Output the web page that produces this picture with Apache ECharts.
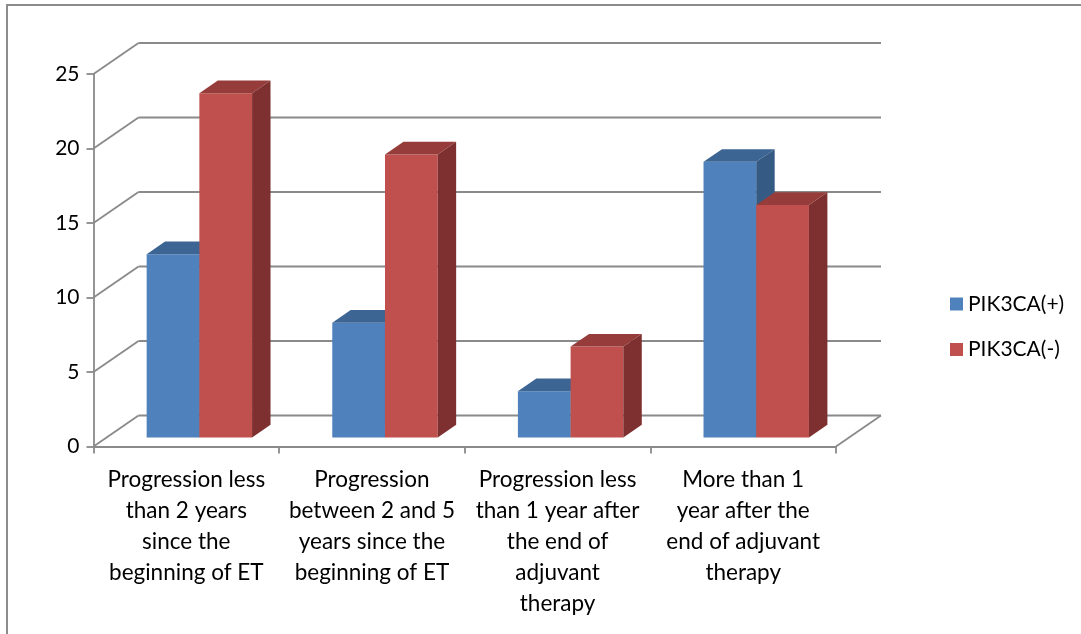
<!DOCTYPE html>
<html>
<head>
<meta charset="utf-8">
<script src="https://cdn.jsdelivr.net/npm/echarts@6/dist/echarts.min.js"></script>
<style>
  html, body { margin: 0; padding: 0; background: #ffffff; }
  #chart { width: 1081px; height: 634px; }
</style>
</head>
<body>
<div id="chart"></div>
<script>
// Progression categories (x axis)
const categories = [
  'Progression less\nthan 2 years\nsince the\nbeginning of ET',
  'Progression\nbetween 2 and 5\nyears since the\nbeginning of ET',
  'Progression less\nthan 1 year after\nthe end of\nadjuvant\ntherapy',
  'More than 1\nyear after the\nend of adjuvant\ntherapy'
];
const seriesNames = ['PIK3CA(+)', 'PIK3CA(-)'];
const pik3caPos = [12.3, 7.7, 3.1, 18.5];
const pik3caNeg = [23.1, 19.0, 6.1, 15.6];
// Value axis ticks (also used for the back-wall grid lines)
const yTicks = [0, 5, 10, 15, 20, 25];

// Oblique depth of the plot box, and where the columns sit inside it
const DEPTH_X = 45, DEPTH_Y = 31;
const BAR_FRONT = 0.29, BAR_DEPTH = 0.41, BAR_WIDTH = 0.284;
const GRID_COLOR = '#8a8a8a';
const FONT = 'Lato, "Open Sans", sans-serif';

const faces = [
  { front: '#4f81bd', top: '#3c6593', side: '#355a84' },
  { front: '#c0504d', top: '#963d3b', side: '#7d302f' }
];

function wallRenderer(params, api) {
  const cs = params.coordSys;
  const v = api.value(1);
  const y = api.coord([0, v])[1];
  const x0 = cs.x, x1 = cs.x + cs.width;
  const children = [
    { type: 'line', shape: { x1: x0, y1: y, x2: x0 + DEPTH_X, y2: y - DEPTH_Y },
      style: { stroke: GRID_COLOR, lineWidth: 1.8 } },
    { type: 'line', shape: { x1: x0 + DEPTH_X, y1: y - DEPTH_Y, x2: x1 + DEPTH_X, y2: y - DEPTH_Y },
      style: { stroke: GRID_COLOR, lineWidth: 1.8 } }
  ];
  if (v === 0) {
    children.push({ type: 'line', shape: { x1: x1, y1: y, x2: x1 + DEPTH_X, y2: y - DEPTH_Y },
      style: { stroke: GRID_COLOR, lineWidth: 1.8 } });
  }
  return { type: 'group', children };
}

function makeBarRenderer(seriesIdx) {
  return function (params, api) {
    const idx = api.value(0);
    const val = api.value(1);
    const band = api.size([1, 0])[0];
    const w = band * BAR_WIDTH;
    const cx = api.coord([idx, 0])[0] + BAR_FRONT * DEPTH_X;
    const yBase = api.coord([idx, 0])[1] - BAR_FRONT * DEPTH_Y;
    const yTop = api.coord([idx, val])[1] - BAR_FRONT * DEPTH_Y;
    const xL = seriesIdx === 0 ? cx - w : cx;
    const xR = xL + w;
    const dx = BAR_DEPTH * DEPTH_X, dy = BAR_DEPTH * DEPTH_Y;
    const f = faces[seriesIdx];
    return {
      type: 'group',
      children: [
        { type: 'rect', shape: { x: xL, y: yTop, width: w, height: yBase - yTop },
          style: { fill: f.front } },
        { type: 'polygon', shape: { points: [[xL, yTop], [xR, yTop], [xR + dx, yTop - dy], [xL + dx, yTop - dy]] },
          style: { fill: f.top } },
        { type: 'polygon', shape: { points: [[xR, yTop], [xR + dx, yTop - dy], [xR + dx, yBase - dy], [xR, yBase]] },
          style: { fill: f.side } }
      ]
    };
  };
}

const chart = echarts.init(document.getElementById('chart'), null, { renderer: 'canvas' });

chart.setOption({
  backgroundColor: '#ffffff',
  animation: false,
  graphic: [
    { type: 'polyline', z: 100,
      shape: { points: [[7, 634], [7, 5], [1081, 5]] },
      style: { stroke: '#8c8c8c', lineWidth: 2, fill: null } }
  ],
  grid: { left: 93.5, right: 245, top: 74, bottom: 187.5, containLabel: false },
  legend: {
    orient: 'vertical',
    left: 945, top: 288.5,
    icon: 'rect', itemWidth: 13, itemHeight: 13, itemGap: 24.5,
    data: seriesNames,
    textStyle: { fontFamily: FONT, fontSize: 21, color: '#000', lineHeight: 21 }
  },
  xAxis: {
    type: 'category',
    data: categories,
    boundaryGap: true,
    axisLine: { show: true, lineStyle: { color: GRID_COLOR, width: 1.8 } },
    axisTick: { show: true, length: 7, alignWithLabel: false, lineStyle: { color: GRID_COLOR, width: 1.8 } },
    axisLabel: { interval: 0, margin: 18, fontFamily: FONT, fontSize: 22.5, color: '#000', lineHeight: 31 },
    splitLine: { show: false }
  },
  yAxis: {
    type: 'value',
    min: 0, max: 25, interval: 5,
    axisLine: { show: true, lineStyle: { color: GRID_COLOR, width: 1.8 } },
    axisTick: { show: true, length: 7, lineStyle: { color: GRID_COLOR, width: 1.8 } },
    axisLabel: { margin: 14, fontFamily: FONT, fontSize: 21, color: '#000' },
    splitLine: { show: false }
  },
  series: [
    {
      name: 'walls', type: 'custom', z: 1, silent: true,
      renderItem: wallRenderer,
      data: yTicks.map(v => [0, v])
    },
    {
      name: seriesNames[0], type: 'custom', z: 5,
      itemStyle: { color: faces[0].front },
      renderItem: makeBarRenderer(0),
      data: pik3caPos.map((v, i) => [i, v])
    },
    {
      name: seriesNames[1], type: 'custom', z: 6,
      itemStyle: { color: faces[1].front },
      renderItem: makeBarRenderer(1),
      data: pik3caNeg.map((v, i) => [i, v])
    }
  ]
});
</script>
</body>
</html>
